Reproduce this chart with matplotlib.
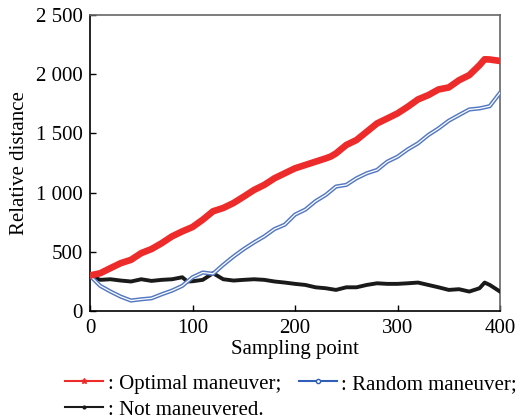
import matplotlib
matplotlib.use("Agg")
import matplotlib.pyplot as plt
from matplotlib.ticker import FuncFormatter
from matplotlib.lines import Line2D

plt.rcParams['font.family'] = ['Liberation Serif', 'DejaVu Serif']

# sampling points (every 10, plus a few peaks)
x_opt = [0, 10, 20, 30, 40, 50, 60, 70, 80, 90, 100, 110, 120, 130, 140, 150, 160, 170, 180,
         190, 200, 210, 220, 230, 235, 240, 250, 260, 270, 280, 290, 300, 310, 320, 330, 340,
         350, 360, 370, 380, 385, 390, 400]
y_opt = [300, 319, 362, 404, 432, 489, 523, 573, 630, 672, 709, 771, 842, 870, 912, 966, 1022,
         1065, 1121, 1163, 1205, 1233, 1261, 1289, 1305, 1331, 1402, 1444, 1514, 1584, 1626,
         1669, 1725, 1787, 1823, 1871, 1888, 1949, 1992, 2076, 2126, 2124, 2112]

x_rand = [0, 10, 20, 30, 40, 50, 60, 70, 80, 90, 100, 110, 120, 130, 140, 150, 160, 170, 180,
          190, 200, 210, 220, 230, 240, 250, 260, 270, 280, 290, 300, 310, 320, 330, 340, 350,
          360, 370, 380, 390, 400]
y_rand = [297, 212, 164, 121, 88, 99, 107, 141, 172, 212, 285, 325, 314, 390, 460, 523, 579,
          630, 692, 729, 814, 856, 927, 980, 1051, 1065, 1121, 1163, 1191, 1261, 1303, 1365,
          1416, 1486, 1542, 1607, 1655, 1702, 1711, 1730, 1843]

x_not = [0, 10, 20, 30, 40, 50, 60, 70, 80, 90, 95, 100, 110, 120, 130, 140, 150, 160, 170, 180,
         190, 200, 210, 220, 230, 240, 250, 260, 270, 280, 290, 300, 310, 320, 330, 340, 350,
         360, 370, 380, 385, 390, 400]
y_not = [297, 263, 268, 257, 249, 268, 254, 263, 268, 285, 249, 251, 263, 319, 268, 257, 263,
         268, 263, 249, 240, 229, 220, 200, 192, 178, 200, 200, 220, 234, 229, 229, 234, 240,
         220, 200, 178, 184, 164, 192, 240, 220, 164]

labels = [': Optimal maneuver;', ': Random maneuver;', ': Not maneuvered.']
c_red = '#ee2b2b'
c_blue = '#5479c2'
c_black = '#1a1a1a'
FS = 15

fig = plt.figure(figsize=(5.28, 4.19), dpi=100)
ax = fig.add_axes([0.1705, 0.2578, 0.7765, 0.7064])

ax.plot(x_not, y_not, color=c_black, lw=2.8, zorder=3)
ax.plot(x_rand, y_rand, color=c_blue, lw=3.0, zorder=4)
ax.plot(x_rand, y_rand, color='white', lw=0.9, zorder=5)
ax.plot(x_opt, y_opt, color=c_red, lw=4.8, zorder=6)

ax.set_xlim(0, 400)
ax.set_ylim(0, 2500)
ax.set_xticks([0, 100, 200, 300, 400])
ax.set_yticks([0, 500, 1000, 1500, 2000, 2500])
ax.yaxis.set_major_formatter(FuncFormatter(lambda v, p: f"{int(v):,}".replace(',', ' ')))
ax.tick_params(direction='in', length=4, width=1, labelsize=FS,
               top=False, right=False)
ax.tick_params(axis='x', pad=6)
ax.tick_params(axis='y', pad=5)
for s in ['left', 'bottom']:
    ax.spines[s].set_color('black')
    ax.spines[s].set_linewidth(1.2)
for s in ['top', 'right']:
    ax.spines[s].set_color('#666666')
    ax.spines[s].set_linewidth(1.2)

ax.set_xlabel('Sampling point', fontsize=FS, labelpad=1)
ax.set_ylabel('Relative distance', fontsize=FS, labelpad=5)

h_opt = Line2D([], [], color=c_red, lw=1.5, marker='*', markersize=4)
h_rand = Line2D([], [], color='#2f5fb8', lw=1.5, marker='o', markersize=3,
                markerfacecolor='white')
h_not = Line2D([], [], color=c_black, lw=1.5, marker='.', markersize=4)
fig.legend([h_opt, h_not, h_rand], [labels[0], labels[2], labels[1]], ncol=2,
           loc='upper left', bbox_to_anchor=(0.123, 0.107), frameon=False,
           fontsize=FS, handlelength=1.85, handletextpad=0.2, columnspacing=0.85,
           labelspacing=0.3, borderpad=0, borderaxespad=0)

fig.savefig('out.png', dpi=100)
